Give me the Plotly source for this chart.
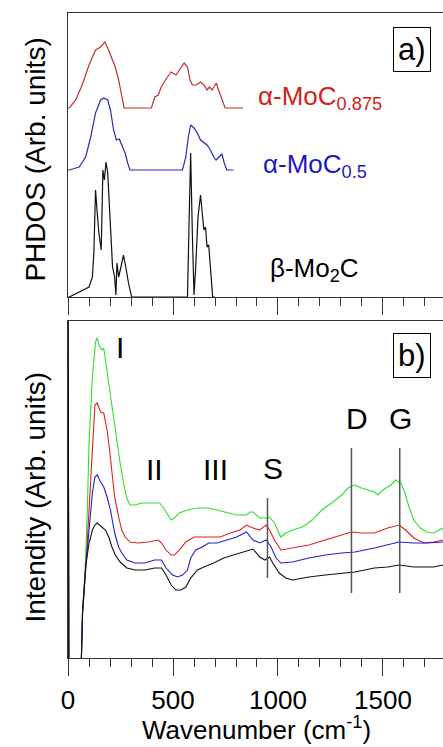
import plotly.graph_objects as go

# ---------------- data: panel a) PHDOS ----------------
beta_w = [0, 6, 100, 116, 123, 131, 139, 147, 158, 166, 173, 181, 189, 197, 205, 212, 222, 228, 233, 241, 252, 264, 275, 288, 303,
          569, 577, 584, 592, 600, 608, 619, 631, 639, 647, 655, 662, 670, 678, 689, 700]
beta_h = [0, 0, 0.10, 0.20, 0.44, 1.07, 0.84, 0.64, 0.47, 1.27, 1.17, 1.35, 1.24, 0.90, 0.64, 0.30, 0.20, 0.02, 0.34, 0.20, 0.30, 0.42, 0.30, 0.14, 0,
          0, 0.80, 1.44, 0.64, 0.02, 0.30, 0.80, 1.02, 0.84, 0.67, 0.70, 0.50, 0.52, 0.30, 0, 0]

moc05_w = [0, 6, 53, 84, 108, 131, 155, 170, 189, 202, 217, 230, 244, 256, 272, 284, 295,
           545, 561, 573, 584, 600, 616, 631, 647, 662, 678, 694, 705, 717, 733, 744, 756, 788]
moc05_h = [0, 0, 0.03, 0.13, 0.33, 0.57, 0.70, 0.72, 0.70, 0.60, 0.40, 0.30, 0.31, 0.25, 0.17, 0.07, 0,
           0, 0.13, 0.33, 0.45, 0.42, 0.37, 0.30, 0.27, 0.25, 0.20, 0.13, 0.10, 0.13, 0.16, 0.07, 0, 0]

moc0875_w = [0, 6, 37, 69, 100, 131, 155, 175, 191, 209, 225, 241, 256, 267,
             397, 413, 430, 444, 467, 491, 514, 534, 553, 569, 581, 592, 612, 631, 647, 662, 674, 686, 706, 717, 733, 748, 834]
moc0875_h = [0, 0, 0.08, 0.24, 0.43, 0.58, 0.61, 0.66, 0.59, 0.49, 0.41, 0.28, 0.11, 0,
             0, 0.11, 0.13, 0.21, 0.29, 0.36, 0.33, 0.39, 0.45, 0.41, 0.28, 0.23, 0.23, 0.26, 0.23, 0.18, 0.21, 0.18, 0.25, 0.18, 0.09, 0, 0]

offset_beta = 0.0
offset_05 = 1.27
offset_0875 = 1.89

# ---------------- data: panel b) Raman ----------------
green_w = [0, 4, 60, 69, 81, 92, 100, 116, 131, 139, 150, 163, 170, 178, 191, 202, 217, 233, 248, 264, 280, 295, 319, 350, 381, 412, 436,
           452, 467, 491, 506, 530, 569, 616, 670, 709, 741, 803, 850, 866, 881, 913, 944, 960, 983, 1014, 1037, 1069, 1116, 1163,
           1209, 1256, 1303, 1334, 1366, 1397, 1428, 1459, 1475, 1499, 1538, 1561, 1585, 1603, 1624, 1647, 1678, 1709, 1741, 1764, 1786]
green_v = [4.0, -0.3, -0.3, 0.48, 0.88, 1.48, 2.15, 2.81, 3.16, 3.20, 3.11, 3.08, 3.10, 2.98, 2.78, 2.65, 2.41, 2.15, 1.95, 1.75, 1.60, 1.53, 1.53, 1.55, 1.55, 1.55, 1.55,
           1.51, 1.46, 1.38, 1.40, 1.45, 1.48, 1.50, 1.50, 1.48, 1.46, 1.43, 1.43, 1.46, 1.46, 1.40, 1.40, 1.41, 1.35, 1.21, 1.25, 1.28, 1.31, 1.38,
           1.48, 1.55, 1.63, 1.70, 1.73, 1.70, 1.68, 1.66, 1.63, 1.68, 1.73, 1.78, 1.75, 1.66, 1.51, 1.38, 1.30, 1.26, 1.25, 1.28, 1.30]

red_w = [0, 4, 60, 69, 84, 100, 116, 128, 139, 155, 170, 186, 194, 206, 222, 241, 256, 272, 295, 334, 381, 430, 445, 467, 491, 506, 530,
         561, 600, 631, 678, 725, 772, 819, 850, 881, 913, 944, 960, 983, 1014, 1069, 1147, 1225, 1303, 1350, 1397, 1459, 1522, 1577,
         1608, 1647, 1694, 1741, 1786]
red_v = [4.0, -0.3, -0.3, 0.45, 0.88, 1.48, 2.15, 2.53, 2.55, 2.46, 2.45, 2.28, 2.15, 1.91, 1.61, 1.41, 1.28, 1.21, 1.16, 1.15, 1.16, 1.18, 1.15, 1.08, 1.03, 1.03, 1.08,
         1.16, 1.21, 1.21, 1.21, 1.21, 1.25, 1.28, 1.33, 1.30, 1.28, 1.33, 1.28, 1.18, 1.08, 1.10, 1.13, 1.18, 1.23, 1.26, 1.25, 1.25, 1.30, 1.33,
         1.28, 1.20, 1.15, 1.16, 1.18]

blue_w = [0, 4, 60, 69, 84, 100, 116, 128, 139, 155, 170, 186, 202, 222, 241, 256, 280, 319, 366, 412, 445, 467, 498, 522, 545, 569, 584,
          608, 639, 670, 709, 756, 803, 850, 881, 913, 944, 967, 991, 1014, 1069, 1147, 1225, 1303, 1366, 1459, 1522, 1577, 1647, 1709, 1786]
blue_v = [4.0, -0.3, -0.3, 0.45, 0.91, 1.31, 1.65, 1.81, 1.83, 1.76, 1.71, 1.61, 1.48, 1.25, 1.11, 1.05, 0.98, 0.95, 0.95, 0.98, 0.98, 0.90, 0.83, 0.81, 0.83, 0.88, 1.00,
          1.08, 1.11, 1.15, 1.15, 1.18, 1.21, 1.26, 1.18, 1.15, 1.18, 1.11, 1.00, 0.95, 0.96, 1.00, 1.03, 1.05, 1.06, 1.10, 1.13, 1.16, 1.15, 1.15, 1.16]

black_w = [0, 4, 60, 69, 84, 100, 116, 128, 139, 163, 178, 194, 209, 225, 248, 280, 319, 366, 412, 445, 467, 491, 514, 538, 561, 584, 616,
           647, 694, 741, 788, 834, 881, 913, 937, 960, 975, 1006, 1037, 1069, 1147, 1225, 1303, 1366, 1459, 1522, 1577, 1647, 1741, 1786]
black_v = [4.0, -0.3, -0.3, 0.45, 0.91, 1.15, 1.28, 1.33, 1.35, 1.31, 1.28, 1.21, 1.11, 1.03, 0.96, 0.90, 0.88, 0.88, 0.90, 0.90, 0.83, 0.73, 0.68, 0.68, 0.71, 0.80, 0.88,
           0.91, 0.95, 1.00, 1.03, 1.06, 1.09, 1.01, 0.98, 1.01, 0.95, 0.85, 0.80, 0.78, 0.81, 0.83, 0.85, 0.86, 0.90, 0.91, 0.93, 0.91, 0.91, 0.93]

band_labels = ["I", "II", "III", "S", "D", "G"]
band_x = [248, 410, 703, 975, 1374, 1585]
band_y = [3.10, 1.89, 1.89, 1.90, 2.39, 2.39]

marker_x = [950, 1350, 1580]
marker_y0 = [0.80, 0.65, 0.65]
marker_y1 = [1.60, 2.10, 2.10]

tick_vals = [0, 500, 1000, 1500]
tick_text = ["0", "500", "1000", "1500"]

FONT = "Arial, Liberation Sans, sans-serif"
RED_TOP = "#c0302f"
BLUE_TOP = "#2a2ab0"
C_GREEN = "#2ee02e"
C_RED = "#e02020"
C_BLUE = "#2020d0"
C_BLACK = "#111111"

fig = go.Figure()

# panel a
fig.add_trace(go.Scatter(x=beta_w, y=[h + offset_beta for h in beta_h], mode="lines",
                         line=dict(color=C_BLACK, width=1.2), xaxis="x", yaxis="y", showlegend=False))
fig.add_trace(go.Scatter(x=moc05_w, y=[h + offset_05 for h in moc05_h], mode="lines",
                         line=dict(color=BLUE_TOP, width=1.2), xaxis="x", yaxis="y", showlegend=False))
fig.add_trace(go.Scatter(x=moc0875_w, y=[h + offset_0875 for h in moc0875_h], mode="lines",
                         line=dict(color=RED_TOP, width=1.2), xaxis="x", yaxis="y", showlegend=False))

# panel b
for w, v, c in [(green_w, green_v, C_GREEN), (red_w, red_v, C_RED), (blue_w, blue_v, C_BLUE), (black_w, black_v, C_BLACK)]:
    fig.add_trace(go.Scatter(x=w, y=v, mode="lines", line=dict(color=c, width=1.1),
                             xaxis="x2", yaxis="y2", showlegend=False))

AX = "#333333"
xcommon = dict(showline=True, linecolor=AX, linewidth=1, mirror=True, showgrid=False, zeroline=False,
               range=[0, 1786], ticks="outside", ticklen=17, tickwidth=1, tickcolor=AX,
               tickvals=tick_vals, ticktext=tick_text,
               minor=dict(dtick=100, tick0=0, ticks="outside", ticklen=8, tickwidth=1, tickcolor=AX),
               domain=[0.14, 1.0])
ycommon = dict(showline=True, linecolor=AX, linewidth=1, mirror=False, showgrid=False, zeroline=False,
               showticklabels=False, ticks="")

fig.update_layout(
    width=443, height=747,
    margin=dict(l=0, r=0, t=0, b=0),
    paper_bgcolor="white", plot_bgcolor="white",
    font=dict(family=FONT, color="black"),
    xaxis=dict(xcommon, anchor="y", showticklabels=False),
    yaxis=dict(ycommon, range=[0, 2.84], domain=[0.6024, 0.9826], anchor="x"),
    xaxis2=dict(xcommon, anchor="y2", showticklabels=True, tickfont=dict(size=26, family=FONT),
                ticklabelstandoff=2),
    yaxis2=dict(ycommon, range=[0, 3.37], domain=[0.1191, 0.5703], anchor="x2"),
)

ann = []
# axis titles
ann.append(dict(text="PHDOS (Arb. units)", x=28 / 443, y=(747 - 160) / 747, xref="paper", yref="paper",
                textangle=-90, showarrow=False, font=dict(size=28, family=FONT), xanchor="center", yanchor="middle"))
ann.append(dict(text="Intendity (Arb. units)", x=28 / 443, y=(747 - 497) / 747, xref="paper", yref="paper",
                textangle=-90, showarrow=False, font=dict(size=28, family=FONT), xanchor="center", yanchor="middle"))
ann.append(dict(text="Wavenumber (cm<sup>-1</sup>)", x=254 / 443, y=1 / 747, xref="paper", yref="paper",
                showarrow=False, font=dict(size=26, family=FONT), xanchor="center", yanchor="bottom",
                borderpad=0))
# panel tags
ann.append(dict(text="a)", x=412 / 443, y=(747 - 49) / 747, xref="paper", yref="paper", showarrow=False,
                font=dict(size=31, family=FONT), bordercolor="black", borderwidth=1, borderpad=4,
                xanchor="center", yanchor="middle"))
ann.append(dict(text="b)", x=412 / 443, y=(747 - 355) / 747, xref="paper", yref="paper", showarrow=False,
                font=dict(size=31, family=FONT), bordercolor="black", borderwidth=1, borderpad=4,
                xanchor="center", yanchor="middle"))
# compound labels
ann.append(dict(text="α-MoC<sub>0.875</sub>", x=895, y=1.99, xref="x", yref="y", showarrow=False,
                font=dict(size=26, family=FONT, color="#d42020"), xanchor="left", yanchor="middle"))
ann.append(dict(text="α-MoC<sub>0.5</sub>", x=919, y=1.32, xref="x", yref="y", showarrow=False,
                font=dict(size=26, family=FONT, color="#1a1ac0"), xanchor="left", yanchor="middle"))
ann.append(dict(text="β-Mo<sub>2</sub>C", x=952, y=0.28, xref="x", yref="y", showarrow=False,
                font=dict(size=26, family=FONT, color="black"), xanchor="left", yanchor="middle"))
# band labels
for t, bx, by in zip(band_labels, band_x, band_y):
    ann.append(dict(text=t, x=bx, y=by, xref="x2", yref="y2", showarrow=False,
                    font=dict(size=30, family=FONT, color="black"), xanchor="center", yanchor="middle"))
fig.update_layout(annotations=ann)

shapes = []
for mx, y0, y1 in zip(marker_x, marker_y0, marker_y1):
    shapes.append(dict(type="line", x0=mx, x1=mx, y0=y0, y1=y1, xref="x2", yref="y2",
                       line=dict(color="#555555", width=1.5)))
fig.update_layout(shapes=shapes)

fig.write_html("out.html")
